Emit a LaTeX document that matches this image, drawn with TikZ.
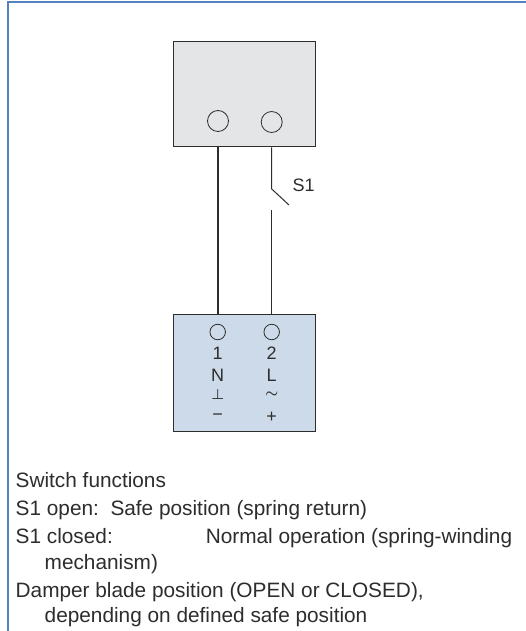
\documentclass[tikz,border=0pt]{standalone}
\usepackage{fontspec}
\setmainfont{Liberation Sans}
\definecolor{framec}{RGB}{84,130,190}
\definecolor{grayb}{RGB}{228,229,231}
\definecolor{blueb}{RGB}{205,218,233}
\definecolor{inkc}{RGB}{45,45,45}
\tikzset{
  boxs/.style={draw=inkc,line width=1.7pt},
  wirethick/.style={draw=inkc,line width=1.5pt},
  wirethin/.style={draw=inkc,line width=1pt},
  termc/.style={circle,draw=inkc,line width=0.8pt,minimum size=21pt,inner sep=0pt},
  termd/.style={circle,draw=inkc,line width=0.8pt,minimum size=15.5pt,inner sep=0pt},
  lab/.style={text=inkc,font=\fontsize{18}{18}\selectfont,inner sep=0pt},
  sym/.style={text=inkc,font=\fontsize{14}{14}\selectfont\boldmath,inner sep=0pt},
  sgn/.style={text=inkc,font=\fontsize{18}{18}\selectfont,inner sep=0pt},
  txt/.style={text=inkc,font=\fontsize{20.8}{20.8}\selectfont,inner sep=0pt,anchor=base west},
}
\begin{document}
\begin{tikzpicture}[x=1pt,y=-1pt]
\useasboundingbox (0,0) rectangle (526,631);
\fill[white] (0,0) rectangle (526,631);
\draw[framec,line width=2pt] (8,631) -- (8,2) -- (526,2);
\node[boxs,fill=grayb,minimum width=142pt,minimum height=105pt,inner sep=0pt] (act) at (244.5,94) {};
\node[termc] (t1) at (218,121) {};
\node[termc] (t2) at (271.7,122) {};
\node[boxs,fill=blueb,minimum width=142pt,minimum height=117pt,inner sep=0pt] (sw) at (244.5,373) {};
\node[termd] (s1) at (217.7,332) {};
\node[termd] (s2) at (271.7,332) {};
\coordinate (a1) at (act.south -| t1);
\coordinate (a2) at (act.south -| t2);
\coordinate (b1) at (sw.north -| t1);
\coordinate (b2) at (sw.north -| s2);
\coordinate (k1) at (271.7,189);
\coordinate (k2) at (289,205);
\coordinate (k3) at (271.7,210);
\draw[wirethick] (a1) -- (b1);
\draw[wirethin] (a2) -- (k1) -- (k2);
\draw[wirethin] (k3) -- (b2);
\node[lab,anchor=base west] (s1lab) at (292.5,191) {S1};
\node[lab] (n1) at (217.7,353) {1};
\node[lab] (n2) at (271.7,353) {2};
\node[lab] (nn) at (217.7,375) {N};
\node[lab] (nl) at (271.7,375) {L};
\node[sym] (np) at (217.7,394) {$\perp$};
\node[sym] (nt) at (271.7,395) {$\sim$};
\node[sgn] (nm) at (217.7,417) {−};
\node[sgn] (npl) at (271.7,417) {+};
\node[txt] (l1) at (15.5,487) {Switch functions};
\node[txt] (l2) at (15.5,515) {S1 open:\ \ Safe position (spring return)};
\node[txt] (l3) at (15.5,543) {S1 closed:\hspace{93pt}Normal operation (spring-winding};
\node[txt] (l4) at (44.5,569) {mechanism)};
\node[txt] (l5) at (15.5,597) {Damper blade position (OPEN or CLOSED),};
\node[txt] (l6) at (44.5,622) {depending on defined safe position};
\end{tikzpicture}
\end{document}
